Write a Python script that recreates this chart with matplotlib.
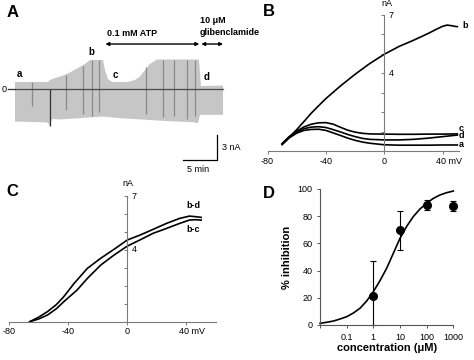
import numpy as np
import matplotlib
matplotlib.use("Agg")
import matplotlib.pyplot as plt
from matplotlib.transforms import ScaledTranslation

plt.rcParams['font.family'] = ['Liberation Sans', 'DejaVu Sans']

W, H = 474, 360

# ---------------- Panel A data (time in min, current in nA) ----------------
upper_t = [0, 4.85, 5.15, 5.88, 6.91, 8.09, 9.26, 10.29, 11.03, 12.94, 13.24, 13.68, 14.26,
           16.62, 17.65, 18.38, 19.12, 19.85, 20.88, 27.06, 27.35, 30.59]
upper_i = [0.84, 0.84, 1.08, 1.32, 1.56, 1.98, 2.52, 3.0, 3.48, 3.48, 2.28, 1.2, 0.84,
           0.84, 1.08, 1.5, 2.28, 3.0, 3.54, 3.54, 0.36, 0.42]
lower_t = [0, 4.12, 4.85, 5.15, 5.44, 6.62, 12.94, 15.44, 21.32, 26.18, 26.91, 27.21, 30.59]
lower_i = [-3.9, -4.0, -4.05, -4.56, -3.6, -3.66, -3.3, -3.5, -3.8, -4.0, -4.1, -3.1, -3.1]
baseline_t = [0, 30.59]
baseline_i = [0, 0]
streak_t = [2.5, 7.5, 10.0, 11.3, 12.3, 19.3, 21.8, 23.4, 25.3, 26.5]
streak_top = [0.84, 1.7, 2.8, 3.48, 3.48, 2.6, 3.54, 3.54, 3.54, 3.54]
streak_bot = [-2.0, -2.5, -3.0, -3.2, -2.8, -3.0, -3.4, -3.2, -3.6, -3.3]
spike_t = [5.1]
spike_top = [0.0]
spike_bot = [-4.5]

# ---------------- Panel B data (mV, nA) ----------------
b_v = [-70, -65, -60, -55, -50, -45, -40, -30, -20, -10, 0, 10, 20, 30, 36, 40, 43, 46, 48, 50]
b_i = [0.35, 0.72, 1.1, 1.52, 1.95, 2.33, 2.7, 3.35, 3.95, 4.5, 4.98, 5.38, 5.7, 6.05, 6.28,
       6.42, 6.48, 6.45, 6.42, 6.4]
low_v = [-70, -65, -60, -55, -50, -45, -40, -35, -30, -25, -20, -15, -10, 0, 10, 20, 30, 40, 50]
c_i = [0.38, 0.75, 1.02, 1.24, 1.38, 1.45, 1.46, 1.38, 1.22, 1.07, 0.97, 0.91, 0.88, 0.87,
       0.86, 0.86, 0.87, 0.87, 0.88]
d_i = [0.36, 0.72, 0.98, 1.15, 1.23, 1.25, 1.21, 1.1, 0.98, 0.85, 0.74, 0.65, 0.6, 0.57,
       0.57, 0.6, 0.66, 0.74, 0.82]
a_i = [0.33, 0.68, 0.92, 1.06, 1.11, 1.12, 1.06, 0.93, 0.8, 0.66, 0.55, 0.46, 0.4, 0.32,
       0.3, 0.3, 0.3, 0.31, 0.31]

# ---------------- Panel C data ----------------
bd_v = [-66, -60, -54, -48, -43, -36, -27, -18, -9, 0, 8.5, 17.4, 26.4, 35.3, 42, 46, 50]
bd_i = [0, 0.25, 0.56, 0.95, 1.39, 2.13, 2.97, 3.53, 4.03, 4.55, 4.82, 5.14, 5.47, 5.75,
        5.88, 5.85, 5.81]
bc_v = [-66, -60, -54, -48, -43, -34, -27, -18, -9, 0, 8.5, 17.4, 26.4, 35.3, 42, 46, 50]
bc_i = [0, 0.15, 0.37, 0.72, 1.11, 1.76, 2.41, 3.15, 3.71, 4.21, 4.55, 4.92, 5.19, 5.47,
        5.66, 5.68, 5.66]

# ---------------- Panel D data ----------------
conc = [1, 10, 100, 1000]
inhib = [21, 69.5, 88, 87.5]
inhib_err_low = [21, 14, 3.7, 3.5]
inhib_err_high = [26, 14, 3.7, 3.5]
fit_conc = [0.01, 0.0178, 0.0316, 0.0562, 0.1, 0.178, 0.316, 0.562, 1, 1.78, 3.16, 5.62,
            10, 17.8, 31.6, 56.2, 100, 178, 316, 562, 1000]
fit_inhib = [1.2, 2.0, 2.9, 4.4, 6.1, 8.8, 12.3, 17.6, 24.5, 32.6, 41.7, 52.7, 63.7, 72.5,
             79.7, 85.3, 89.5, 93.1, 95.6, 97.3, 98.5]
d_xticks = [0.01, 0.1, 1, 10, 100, 1000]
d_xticklabels = ['', '0.1', '1', '10', '100', '1000']

fig = plt.figure(figsize=(W / 100, H / 100), dpi=100)


def ax_px(x0, y0, x1, y1):
    return fig.add_axes([x0 / W, 1 - y1 / H, (x1 - x0) / W, (y1 - y0) / H])


def ftext(x, y, s, **kw):
    fig.text(x / W, 1 - y / H, s, **kw)


AX = '#7a7a7a'

# ================= Panel A =================
axA = ax_px(0, 0, 235, 180)
axA.set_xlim(-15 / 6.8, 220 / 6.8)
axA.set_ylim(-91 / 8.33, 89 / 8.33)
axA.axis('off')
axA.fill(np.r_[upper_t, lower_t[::-1]], np.r_[upper_i, lower_i[::-1]],
         color='#c6c6c6', lw=0)
axA.vlines(streak_t, streak_bot, streak_top, color='#8a8a8a', lw=0.9)
axA.vlines(spike_t, spike_bot, spike_top, color='#333333', lw=0.9)
axA.plot(baseline_t, baseline_i, color='#4a4a4a', lw=0.9)
axA.plot([-1.03, 0], [0, 0], color='#333333', lw=0.9)
axA.text(-1.25, 0, '0', ha='right', va='center', fontsize=6.5)
axA.annotate('', xy=(13.3, 5.4), xytext=(27.1, 5.4),
             arrowprops=dict(arrowstyle='<|-|>', color='black', lw=1.0,
                             mutation_scale=5, shrinkA=0, shrinkB=0))
axA.annotate('', xy=(27.4, 5.4), xytext=(30.6, 5.4),
             arrowprops=dict(arrowstyle='<|-|>', color='black', lw=1.0,
                             mutation_scale=5, shrinkA=0, shrinkB=0))
# scale bar
axA.plot([24.66, 29.66, 29.66], [-8.52, -8.52, -5.52], color='black', lw=0.9)

ftext(13, 12.5, 'A', fontsize=12, fontweight='bold', ha='center', va='center')
ftext(19, 74, 'a', fontsize=7, fontweight='bold', ha='center', va='center')
ftext(91.7, 52.3, 'b', fontsize=7, fontweight='bold', ha='center', va='center')
ftext(115, 75, 'c', fontsize=7, fontweight='bold', ha='center', va='center')
ftext(206.7, 77.3, 'd', fontsize=7, fontweight='bold', ha='center', va='center')
ftext(132.5, 33.3, '0.1 mM ATP', fontsize=6.5, fontweight='bold', ha='center', va='center')
ftext(200, 20.7, '10 \u03bcM', fontsize=6.5, fontweight='bold', ha='left', va='center')
ftext(200, 32.3, 'glibenclamide', fontsize=6.5, fontweight='bold', ha='left', va='center')
ftext(221.7, 148, '3 nA', fontsize=6.5, ha='left', va='center')
ftext(198.5, 169, '5 min', fontsize=6.5, ha='center', va='center')


def iv_axes(ax, xlim, ylim):
    ax.set_xlim(*xlim)
    ax.set_ylim(*ylim)
    for s in ['top', 'right']:
        ax.spines[s].set_visible(False)
    ax.spines['left'].set_position(('data', 0))
    ax.spines['bottom'].set_position(('data', 0))
    for s in ['left', 'bottom']:
        ax.spines[s].set_color(AX)
        ax.spines[s].set_linewidth(0.8)
    ax.patch.set_alpha(0)
    ax.set_yticks(range(0, 8))
    ax.set_yticklabels([])
    ax.tick_params(axis='y', direction='out', length=2, width=0.7, color=AX)
    ax.set_xticks([-80, -40, 0, 40])
    ax.set_xticklabels(['-80', '-40', '0', '40 mV'], fontsize=6.5)
    ax.tick_params(axis='x', direction='out', length=2, width=0.7, color=AX, pad=2)
    lbl = ax.get_xticklabels()[-1]
    lbl.set_transform(lbl.get_transform() + ScaledTranslation(6 / 100, 0, fig.dpi_scale_trans))
    for v in [4, 7]:
        ax.annotate(str(v), xy=(0, v), xytext=(3, 0), textcoords='offset points',
                    ha='left', va='center', fontsize=6.5)


# ================= Panel B =================
axB = ax_px(267.5, 15, 458.8, 151)
iv_axes(axB, (-80, 51), (0, 7))
axB.plot(b_v, b_i, color='black', lw=1.2)
axB.plot(low_v, c_i, color='black', lw=1.2)
axB.plot(low_v, d_i, color='black', lw=1.2)
axB.plot(low_v, a_i, color='black', lw=1.2)
ftext(268.5, 11, 'B', fontsize=12, fontweight='bold', ha='center', va='center')
ftext(387, 4, 'nA', fontsize=6.5, ha='center', va='center')
ftext(462, 25, 'b', fontsize=6.5, fontweight='bold', ha='left', va='center')
ftext(459, 128.3, 'c', fontsize=6.5, fontweight='bold', ha='left', va='center')
ftext(459, 136, 'd', fontsize=6.5, fontweight='bold', ha='left', va='center')
ftext(459, 144.3, 'a', fontsize=6.5, fontweight='bold', ha='left', va='center')

# ================= Panel C =================
axC = ax_px(9, 196, 216, 321.7)
iv_axes(axC, (-80, 60), (0, 7))
axC.plot(bd_v, bd_i, color='black', lw=1.2)
axC.plot(bc_v, bc_i, color='black', lw=1.2)
ftext(12.5, 192, 'C', fontsize=12, fontweight='bold', ha='center', va='center')
ftext(128, 183, 'nA', fontsize=6.5, ha='center', va='center')
ftext(193.3, 206, 'b-d', fontsize=6.5, fontweight='bold', ha='center', va='center')
ftext(193.3, 230, 'b-c', fontsize=6.5, fontweight='bold', ha='center', va='center')

# ================= Panel D =================
axD = ax_px(320, 189, 453.3, 325)
axD.set_xscale('log')
axD.set_xlim(0.01, 1000)
axD.set_ylim(0, 100)
for s in ['top', 'right']:
    axD.spines[s].set_visible(False)
for s in ['left', 'bottom']:
    axD.spines[s].set_color('#555555')
    axD.spines[s].set_linewidth(0.8)
axD.patch.set_alpha(0)
axD.set_xticks(d_xticks)
axD.set_xticklabels(d_xticklabels, fontsize=6.5)
axD.xaxis.set_minor_locator(matplotlib.ticker.NullLocator())
axD.set_yticks(range(0, 101, 20))
axD.set_yticklabels([str(v) for v in range(0, 101, 20)], fontsize=6.5)
axD.tick_params(direction='out', length=2.5, width=0.7, color='#555555', pad=3)
axD.plot(fit_conc, fit_inhib, color='black', lw=1.2, clip_on=False)
eb = axD.errorbar(conc, inhib, yerr=[inhib_err_low, inhib_err_high], fmt='o', color='black',
                  ms=5.5, capsize=2.5, elinewidth=0.8, capthick=0.8)
for art in eb.get_children():
    art.set_clip_on(False)
axD.set_xlabel('concentration (\u03bcM)', fontsize=8, fontweight='bold', labelpad=1)
axD.set_ylabel('% inhibition', fontsize=8, fontweight='bold', labelpad=4)
ftext(268.5, 194, 'D', fontsize=12, fontweight='bold', ha='center', va='center')

fig.savefig('out.png', dpi=100)
